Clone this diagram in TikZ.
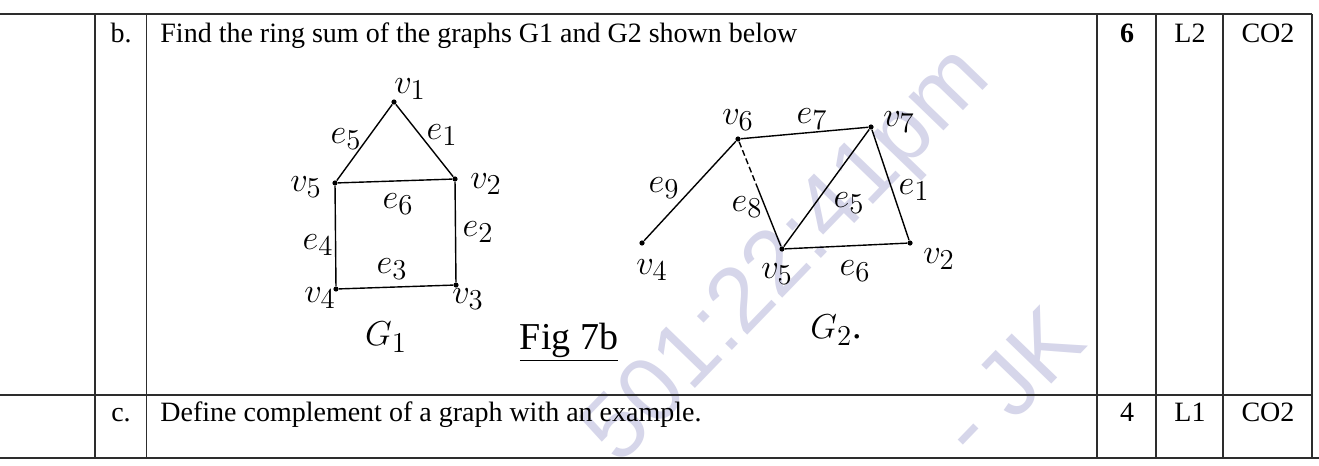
\documentclass[tikz,border=0pt]{standalone}
\usepackage{fontspec}
\setmainfont{Liberation Serif}
\newfontfamily\wmfont{Liberation Sans}
\usetikzlibrary{calc}
\definecolor{inkgray}{RGB}{45,45,45}
\definecolor{wmblue}{RGB}{214,214,234}

\begin{document}
\begin{tikzpicture}[x=0.5pt, y=-0.5pt,
    vtx/.style={circle, fill=black, inner sep=0pt, minimum size=2.6pt},
    lbl/.style={inner sep=0pt, font=\fontsize{19}{22}\selectfont},
    edge/.style={black, line width=0.7pt},
    rule/.style={inkgray, line width=0.9pt},
    cell/.style={anchor=base, inner sep=0pt, font=\fontsize{14}{17}\selectfont},
    wmark/.style={wmblue, rotate=46, inner sep=0pt, font=\wmfont\fontsize{46}{50}\selectfont}]
    % Bounding area of the scanned part (1319 x 466 px)
    \useasboundingbox[fill=white] (0,0) rectangle (1319,466);

    % Faint watermark behind the drawing
    \node[wmark] (wmtime) at (790,258) {501:22:41pm};
    \node[wmark] (wmname) at (1010,382) {- JK};

    % Table rules
    \draw[rule] (0,14) -- (1312,14);
    \draw[rule] (0,395) -- (1312,395);
    \draw[rule] (0,458) -- (1319,458);
    \foreach \cx in {95,146.5,1097,1156,1223,1312}
        \draw[rule] (\cx,14) -- (\cx,458);

    % Row b
    \node[cell] (qb) at (121,42) {b.};
    \node[cell, anchor=base west] (qbtext) at (160,42) {Find the ring sum of the graphs G1 and G2 shown below};
    \node[cell] (mb) at (1127,42) {\textbf{6}};
    \node[cell] (lb) at (1190,42) {L2};
    \node[cell] (cb) at (1268,42) {CO2};

    % Row c
    \node[cell] (qc) at (121,421) {c.};
    \node[cell, anchor=base west] (qctext) at (160,421) {Define complement of a graph with an example.};
    \node[cell] (mc) at (1127,421) {4};
    \node[cell] (lc) at (1190,421) {L1};
    \node[cell] (cc) at (1268,421) {CO2};

    % Graph G1 (house shape)
    \node[vtx] (u1) at (394,102) {};
    \node[vtx] (u2) at (455,179) {};
    \node[vtx] (u3) at (456,285) {};
    \node[vtx] (u4) at (336,289) {};
    \node[vtx] (u5) at (335,183) {};
    \draw[edge] (u1) -- (u5) -- (u4) -- (u3) -- (u2) -- (u1);
    \draw[edge] (u5) -- (u2);

    \node[lbl] (lu1) at (410,89) {$v_1$};
    \node[lbl] (lu2) at (486,184) {$v_2$};
    \node[lbl] (lu3) at (468,299) {$v_3$};
    \node[lbl] (lu4) at (320,298) {$v_4$};
    \node[lbl] (lu5) at (306,187) {$v_5$};
    \node[lbl] (le1) at (442,135) {$e_1$};
    \node[lbl] (le2) at (478,232) {$e_2$};
    \node[lbl] (le3) at (392,269) {$e_3$};
    \node[lbl] (le4) at (318,245) {$e_4$};
    \node[lbl] (le5) at (346,139) {$e_5$};
    \node[lbl] (le6) at (398,204) {$e_6$};
    \node[lbl] (gone) at (386,337) {$G_1$};

    % Figure caption
    \node[lbl] (fig) at (569,342) {\underline{Fig 7b}};

    % Graph G2
    \node[vtx] (w1) at (871,127) {};
    \node[vtx] (w2) at (910,243) {};
    \node[vtx] (w4) at (642,243) {};
    \node[vtx] (w5) at (782,249) {};
    \node[vtx] (w6) at (738,139) {};
    \draw[edge] (w4) -- (w6) -- (w1) -- (w2) -- (w5) -- (w1);
    % e8 is dashed near v6, solid near v5
    \coordinate (m8) at ($(w6)!0.45!(w5)$);
    \draw[edge, dash pattern=on 3pt off 1.5pt] (w6) -- (m8);
    \draw[edge] (m8) -- (w5);

    \node[lbl] (lw6) at (738,120) {$v_6$};
    \node[lbl] (lw1) at (899,122) {$v_7$};
    \node[lbl] (lw4) at (652,270) {$v_4$};
    \node[lbl] (lw5) at (777,274) {$v_5$};
    \node[lbl] (lw2) at (939,259) {$v_2$};
    \node[lbl] (lf7) at (812,119) {$e_7$};
    \node[lbl] (lf9) at (664,188) {$e_9$};
    \node[lbl] (lf8) at (747,207) {$e_8$};
    \node[lbl] (lf5) at (849,203) {$e_5$};
    \node[lbl] (lf1) at (914,190) {$e_1$};
    \node[lbl] (lf6) at (855,271) {$e_6$};
    \node[lbl] (gtwo) at (836,330) {$G_2$.};
\end{tikzpicture}
\end{document}
